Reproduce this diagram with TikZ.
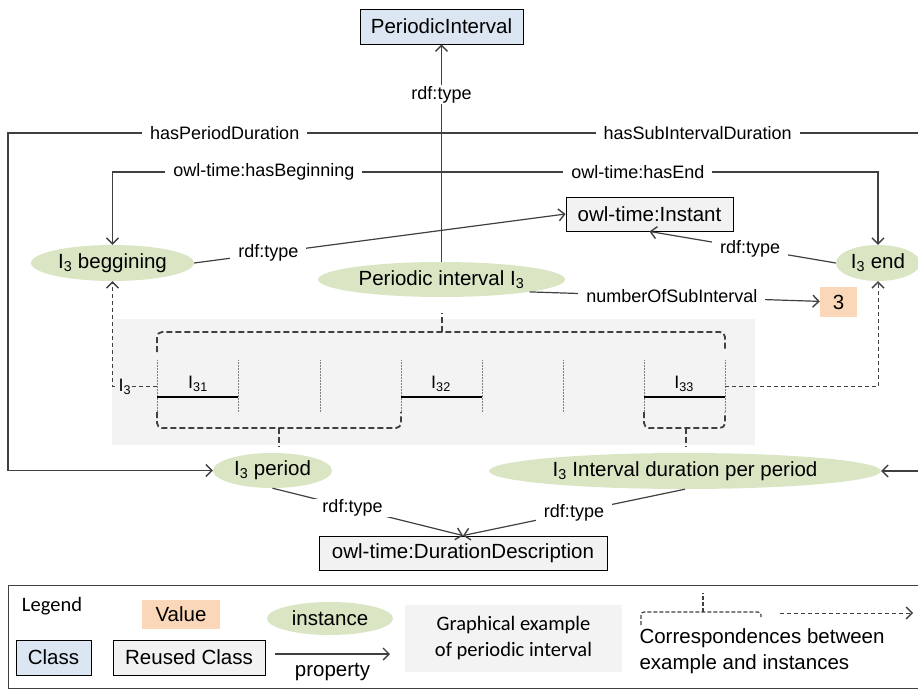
\documentclass[tikz,border=0pt]{standalone}
\usepackage{fontspec}
\setmainfont{Liberation Sans}
\newfontfamily\calibfont{Carlito}
\usepackage{tikz}
\usetikzlibrary{arrows.meta,positioning,shapes.geometric}
\definecolor{lineGray}{RGB}{64,64,64}
\definecolor{classBlue}{RGB}{220,230,242}
\definecolor{reuseGray}{RGB}{242,242,242}
\definecolor{valPeach}{RGB}{251,215,185}
\definecolor{instGreen}{RGB}{218,229,196}
\definecolor{exGray}{RGB}{243,243,243}
\providecommand{\sub}[1]{\textsubscript{#1}}
\providecommand{\ctext}[1]{\makebox[0pt]{#1}}

\begin{document}
\begin{tikzpicture}[
    x=1pt, y=-1pt,
    >={Straight Barb[length=6pt,width=12pt,line width=1.4pt]},
    every node/.style={font=\fontsize{20.5}{24}\selectfont},
    cls/.style={draw=black, line width=0.9pt, fill=classBlue, inner sep=0pt},
    rcls/.style={draw=black, line width=0.9pt, fill=reuseGray, inner sep=0pt},
    inst/.style={ellipse, fill=instGreen, inner sep=0pt},
    val/.style={fill=valPeach, inner sep=0pt},
    prop/.style={draw=lineGray, line width=1.2pt},
    lbl/.style={fill=white, inner xsep=8pt, inner ysep=1pt,
        font=\fontsize{18}{20}\selectfont},
    corr/.style={draw=lineGray, line width=0.9pt, dash pattern=on 4pt off 3pt},
    brace/.style={draw=lineGray, line width=1.8pt, dash pattern=on 6pt off 3pt,
        rounded corners=5pt},
    tick/.style={draw=gray, line width=0.5pt, densely dotted},
    sub/.style={font=\fontsize{18}{20}\selectfont, inner sep=1pt}
]
  \useasboundingbox (0,0) rectangle (918,690);

  % graphical example of the periodic interval
  \fill[exGray] (112,319) rectangle (755,445);
  \foreach \x in {157,238,320,401,482,563,644,725}
    \draw[tick] (\x,360) -- (\x,412);
  \foreach \a/\b in {157/238,401/482,644/725}
    \draw[line width=1.2pt] (\a,397) -- (\b,397);
  \node[sub] (i31) at (198,384) {I\sub{31}};
  \node[sub] (i32) at (441,384) {I\sub{32}};
  \node[sub] (i33) at (684,384) {I\sub{33}};
  \coordinate (t0) at (157,386.5);
  \coordinate (t7) at (725,386.5);

  \draw[brace] (157,352) -- (157,332) -- (725,332) -- (725,350);
  \draw[brace] (442,332) -- (442,313);
  \draw[brace] (157,412) -- (157,428) -- (401,428) -- (401,412);
  \draw[brace] (279,428) -- (279,447);
  \draw[brace] (644,412) -- (644,428) -- (725,428) -- (725,412);
  \draw[brace] (686,428) -- (686,447);

  % classes, instances, value
  \node[cls, minimum width=163, minimum height=35] (PC) at (441.5,26.5) {PeriodicInterval};
  \node[rcls, minimum width=167, minimum height=34] (inst) at (649.5,214) {owl-time:Instant};
  \node[rcls, minimum width=288, minimum height=34] (dd) at (463,553) {owl-time:DurationDescription};
  \node[inst, minimum width=163, minimum height=36] (beg) at (112.5,263) {\ctext{I\sub{3} beggining}};
  \node[inst, minimum width=247, minimum height=35] (PI) at (441.5,279.5) {\ctext{Periodic interval I\sub{3}}};
  \node[inst, minimum width=84, minimum height=36] (endI) at (878,263) {\ctext{I\sub{3} end}};
  \node[val, minimum width=37, minimum height=30] (num) at (838.5,302) {3};
  \node[inst, minimum width=119, minimum height=35] (per) at (272.5,470.5) {\ctext{I\sub{3} period}};
  \node[inst, minimum width=392, minimum height=36] (dur) at (685,471) {\ctext{I\sub{3} Interval duration per period}};

  % properties
  \draw[prop,->] (PI) -- node[lbl, pos=0.77] {rdf:type} (PC);
  \draw[prop,->] (PI.north) |- node[lbl, pos=0.75] {hasPeriodDuration} (8,133) -- (8,470.5) -- (per);
  \draw[prop,->] (PI.north) |- node[lbl, pos=0.767] {hasSubIntervalDuration} (921,133) -- (921,471) -- (dur);
  \draw[prop,->] (PI.north) |- node[lbl, pos=0.77] {owl-time:hasBeginning} (112.5,172) -- (beg);
  \draw[prop,->] (PI.north) |- node[lbl, pos=0.725] {owl-time:hasEnd} (878,172) -- (endI);
  \draw[prop,->] (beg.east) -- node[lbl, pos=0.2] {rdf:type} (inst.west);
  \draw[prop,->] (endI.west) -- node[lbl, pos=0.46] {rdf:type} (inst.south);
  \draw[prop,->] (PI.-8) -- node[lbl, pos=0.49] {numberOfSubInterval} (num);
  \draw[prop,->] (per.south) -- node[lbl, pos=0.42] {rdf:type} (dd.north);
  \draw[prop,->] (dur.south) -- node[lbl, pos=0.5] {rdf:type} (dd.north);

  % correspondences
  \draw[corr,->] (t0) -| node[sub, pos=0.36, fill=exGray] {I\sub{3}} (beg);
  \draw[corr,->] (t7) -| (endI);

  % legend
  \draw[draw=lineGray, line width=0.9pt] (8,585) rectangle (930,688);
  \node[font=\calibfont\fontsize{20.5}{24}\selectfont] (lgd) at (52,606) {Legend};
  \node[val, minimum width=78, minimum height=29] (lv) at (181,614.5) {Value};
  \node[inst, minimum width=126, minimum height=33] (li) at (330,618.5) {\ctext{instance}};
  \node[cls, minimum width=75, minimum height=35] (lc) at (53.5,657.5) {Class};
  \node[rcls, minimum width=152, minimum height=35] (lr) at (189,657.5) {Reused Class};
  \coordinate (pa) at (275,654);
  \coordinate (pb) at (390,654);
  \draw[prop,->] (pa) -- node[below=5pt] {property} (pb);
  \node[fill=exGray, minimum width=217, minimum height=67, align=center,
    font=\calibfont\fontsize{20.5}{26}\selectfont] (lg) at (513.5,638.5)
    {Graphical example\\of periodic interval};
  \draw[brace, line width=1.2pt, dash pattern=on 4pt off 2pt, rounded corners=3pt]
    (641,625) -- (641,612) -- (761,612) -- (761,617);
  \draw[brace, line width=1.2pt, dash pattern=on 4pt off 2pt] (703,612) -- (703,593);
  \coordinate (ca) at (780,613);
  \coordinate (cb) at (913,613);
  \draw[corr,->] (ca) -- (cb);
  \node[anchor=west, align=left, font=\fontsize{20.5}{26}\selectfont] (lcorr) at (636,651)
    {Correspondences between\\example and instances};
\end{tikzpicture}
\end{document}
